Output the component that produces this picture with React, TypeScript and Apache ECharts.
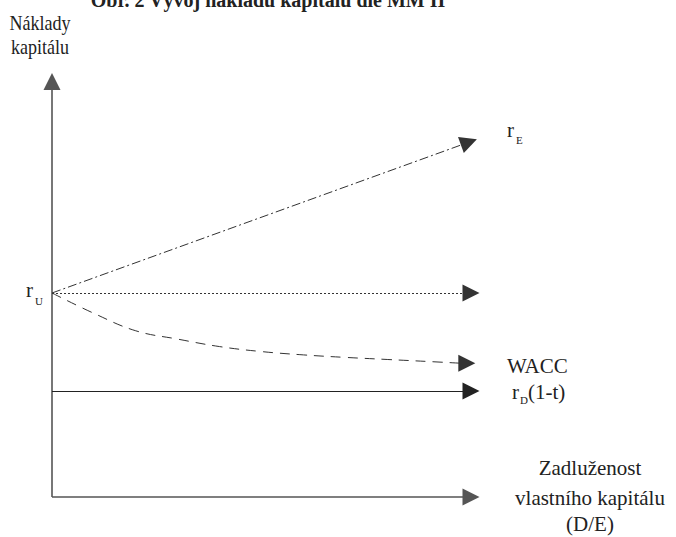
import React, { useEffect, useRef } from "react";
import * as echarts from "echarts";

// ---- data (abstract units: x = D/E, y = cost of capital) ----
const xMax = 10;
const yMax = 10;
const rU = 4.91; // unlevered cost of capital level
const rEEnd = [9.95, 8.54]; // end of r_E line
const flatEnd = [10, 4.91]; // end of dotted r_U line
const rDLevel = 2.55; // r_D(1-t)
const waccX = [0, 1, 2, 3, 4, 5, 6, 7, 8, 9, 9.75];
const waccY = [4.91, 4.42, 4.0, 3.8, 3.62, 3.5, 3.42, 3.36, 3.31, 3.26, 3.22];
const waccArrowEnd = [9.9, 3.22];

const titleText = "Obr. 2 Vývoj nákladů kapitálu dle MM II";
const yAxisLabel = ["Náklady", "kapitálu"];
const xAxisLabel = ["Zadluženost", "vlastního kapitálu", "(D/E)"];

const FONT = "'Liberation Serif', 'Times New Roman', serif";
const INK = "#222";

export default function App() {
  const ref = useRef<HTMLDivElement>(null);

  useEffect(() => {
    if (!ref.current) return;
    const chart = echarts.init(ref.current, undefined, { renderer: "svg" });

    const txt = (
      text: string,
      x: number,
      y: number,
      size: number,
      align: string = "left",
      extra: any = {}
    ) => ({
      type: "text",
      x,
      y,
      silent: true,
      ...extra,
      style: {
        text,
        fontFamily: FONT,
        fontSize: size,
        fill: INK,
        align,
        verticalAlign: "middle",
        ...(extra.style || {}),
      },
    });

    const arrow = {
      symbol: ["none", "triangle"],
      symbolSize: [11, 17],
      clip: false,
    };

    chart.setOption({
      animation: false,
      backgroundColor: "#fff",
      grid: { left: 52, right: 205, top: 81.5, bottom: 40 },
      xAxis: { type: "value", min: 0, max: xMax, show: false },
      yAxis: { type: "value", min: 0, max: yMax, show: false },
      series: [
        {
          type: "lines",
          coordinateSystem: "cartesian2d",
          silent: true,
          ...arrow,
          lineStyle: { color: "#555", width: 1.6, opacity: 1 },
          itemStyle: { color: INK },
          data: [
            { coords: [[0, 0], [0, yMax]] },
            { coords: [[0, 0], [xMax, 0]] },
          ],
        },
        {
          type: "lines",
          coordinateSystem: "cartesian2d",
          silent: true,
          ...arrow,
          lineStyle: { color: "#333", width: 1, type: [9, 3, 2, 3], opacity: 1 },
          itemStyle: { color: INK },
          data: [{ coords: [[0, rU], rEEnd] }],
        },
        {
          type: "lines",
          coordinateSystem: "cartesian2d",
          silent: true,
          ...arrow,
          lineStyle: { color: "#333", width: 1, type: [2, 2], opacity: 1 },
          itemStyle: { color: INK },
          data: [{ coords: [[0, rU], flatEnd] }],
        },
        {
          type: "lines",
          coordinateSystem: "cartesian2d",
          silent: true,
          ...arrow,
          lineStyle: { color: INK, width: 1.2, type: "solid", opacity: 1 },
          itemStyle: { color: INK },
          data: [{ coords: [[0, rDLevel], [xMax, rDLevel]] }],
        },
        {
          type: "line",
          silent: true,
          clip: false,
          smooth: 0.4,
          showSymbol: false,
          lineStyle: { color: "#333", width: 1, type: [10, 7] },
          data: waccX.map((x, i) => [x, waccY[i]]),
        },
        {
          type: "lines",
          coordinateSystem: "cartesian2d",
          silent: true,
          ...arrow,
          lineStyle: { color: "#333", width: 1, type: [10, 7], opacity: 1 },
          itemStyle: { color: INK },
          data: [
            {
              coords: [
                [waccX[waccX.length - 1], waccY[waccY.length - 1]],
                waccArrowEnd,
              ],
            },
          ],
        },
      ],
      graphic: [
        txt(titleText, 268, 0, 20, "center", { style: { fontWeight: "bold" } }),
        txt(yAxisLabel[0], 40, 22.5, 22, "center", { scaleX: 0.82 }),
        txt(yAxisLabel[1], 40, 46, 22, "center", { scaleX: 0.82 }),
        txt("r", 26, 290, 21),
        txt("U", 35, 301, 11),
        txt("r", 507, 130, 21),
        txt("E", 516, 140, 11),
        txt("WACC", 507, 366, 21),
        txt("r", 512, 392, 21),
        txt("D", 520, 400, 11),
        txt("(1-t)", 528, 392, 21),
        txt(xAxisLabel[0], 590, 468, 21, "center"),
        txt(xAxisLabel[1], 590, 498, 21, "center"),
        txt(xAxisLabel[2], 590, 524, 21, "center"),
      ],
    });

    return () => chart.dispose();
  }, []);

  return (
    <div
      ref={ref}
      style={{ position: "fixed", left: 0, top: 0, width: 676, height: 537 }}
    />
  );
}
